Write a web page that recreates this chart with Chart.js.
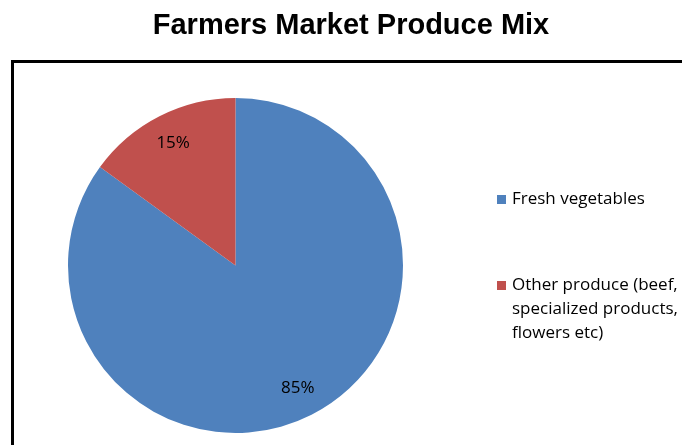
<!DOCTYPE html>
<html lang="en">
<head>
    <meta charset="UTF-8">
    <title>Farmers Market Produce Mix</title>
    <script src="https://cdn.jsdelivr.net/npm/chart.js"></script>
    <style>
        body { margin: 0; background: #fff; }
        #wrap { width: 682px; height: 445px; position: relative; }
    </style>
</head>
<body>
    <div id="wrap"><canvas id="pieChart" width="682" height="445"></canvas></div>
    <script>
        // Datos del grafico
        const chartTitle = 'Farmers Market Produce Mix';
        const categories = ['Fresh vegetables', 'Other produce (beef, specialized products, flowers etc)'];
        const legendLines = [['Fresh vegetables'], ['Other produce (beef,', 'specialized products,', 'flowers etc)']];
        const shares = [85, 15];
        const sliceColors = ['#4F81BD', '#C0504D'];

        // Marco, titulo, leyenda y etiquetas dibujados a mano
        const decorPlugin = {
            id: 'decor',
            beforeDraw(chart) {
                const ctx = chart.ctx;
                ctx.save();
                ctx.strokeStyle = '#000';
                ctx.lineWidth = 3;
                ctx.beginPath();
                ctx.moveTo(12.5, 460);
                ctx.lineTo(12.5, 61.5);
                ctx.lineTo(700, 61.5);
                ctx.stroke();

                ctx.fillStyle = '#000';
                ctx.font = 'bold 29px "Liberation Sans", Arial, sans-serif';
                ctx.textAlign = 'center';
                ctx.textBaseline = 'middle';
                ctx.fillText(chartTitle, 351, 26);
                ctx.restore();
            },
            afterDraw(chart) {
                const ctx = chart.ctx;
                const meta = chart.getDatasetMeta(0);
                ctx.save();
                ctx.fillStyle = '#000';
                ctx.font = '17px "Open Sans", sans-serif';
                ctx.textAlign = 'center';
                ctx.textBaseline = 'middle';
                const total = shares.reduce((a, b) => a + b, 0);
                meta.data.forEach((arc, i) => {
                    const mid = (arc.startAngle + arc.endAngle) / 2;
                    const r = arc.outerRadius * 0.82;
                    const x = arc.x + Math.cos(mid) * r;
                    const y = arc.y + Math.sin(mid) * r;
                    ctx.fillText(Math.round(shares[i] / total * 100) + '%', x, y);
                });

                // Leyenda
                ctx.textAlign = 'left';
                ctx.font = '17px "Open Sans", sans-serif';
                const tops = [199, 285];
                legendLines.forEach((lines, i) => {
                    ctx.fillStyle = sliceColors[i];
                    ctx.fillRect(497, tops[i] - 4, 9, 9);
                    ctx.fillStyle = '#000';
                    lines.forEach((line, j) => {
                        ctx.fillText(line, 512, tops[i] + j * 24);
                    });
                });
                ctx.restore();
            }
        };

        new Chart(document.getElementById('pieChart'), {
            type: 'pie',
            data: {
                labels: categories,
                datasets: [{
                    data: shares,
                    backgroundColor: sliceColors,
                    borderWidth: 0,
                    hoverOffset: 0
                }]
            },
            options: {
                responsive: false,
                animation: false,
                events: [],
                layout: { padding: { left: 68, right: 279, top: 98, bottom: 12 } },
                plugins: {
                    legend: { display: false },
                    title: { display: false },
                    tooltip: { enabled: false }
                }
            },
            plugins: [decorPlugin]
        });
    </script>
</body>
</html>
